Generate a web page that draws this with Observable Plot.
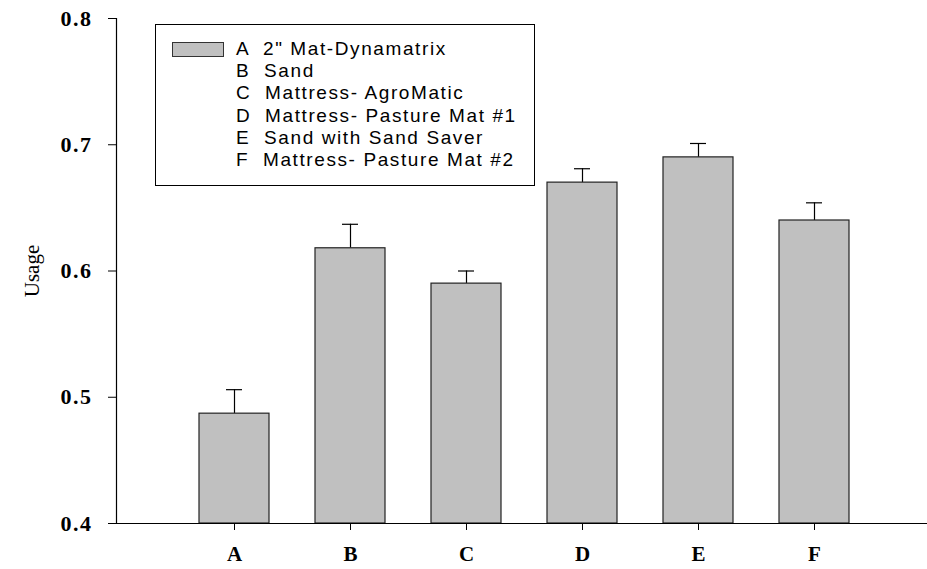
<!DOCTYPE html>
<html>
<head>
<meta charset="utf-8">
<script src="https://cdn.jsdelivr.net/npm/d3@7"></script>
<script src="https://cdn.jsdelivr.net/npm/@observablehq/plot@0.6"></script>
<style>
  html, body { margin: 0; padding: 0; background: #fff; }
  #wrap { position: relative; width: 927px; height: 569px; }
  #legend {
    position: absolute; left: 155px; top: 24px; width: 378px; height: 160px;
    border: 1px solid #000; background: #fff; box-sizing: content-box;
    font-family: "Liberation Sans", Arial, sans-serif; font-size: 19px; letter-spacing: 1.6px; color: #000;
  }
  #legend .sw { position: absolute; left: 16px; top: 17px; width: 50px; height: 13px; background: #c0c0c0; border: 1px solid #333; }
  #legend .row { position: absolute; left: 80px; white-space: pre; line-height: 22px; }
</style>
</head>
<body>
<div id="wrap"></div>
<script>
const categories = ["A", "B", "C", "D", "E", "F"];
const usage = [0.487, 0.618, 0.590, 0.670, 0.690, 0.640];
const stdErr = [0.019, 0.019, 0.010, 0.011, 0.011, 0.014];
const legendLabels = [
  "A  2\" Mat-Dynamatrix",
  "B  Sand",
  "C  Mattress- AgroMatic",
  "D  Mattress- Pasture Mat #1",
  "E  Sand with Sand Saver",
  "F  Mattress- Pasture Mat #2"
];
const yTicks = [0.4, 0.5, 0.6, 0.7, 0.8];
const yLabel = "Usage";

const data = categories.map((c, i) => ({cat: c, v: usage[i], top: usage[i] + stdErr[i]}));
const serif = "Liberation Serif, Times New Roman, serif";

const plot = Plot.plot({
  width: 927, height: 569,
  marginLeft: 116, marginRight: 0, marginTop: 18, marginBottom: 46,
  style: {background: "#fff", overflow: "visible"},
  x: {type: "band", domain: categories, paddingInner: 0.394, paddingOuter: 0.672, align: 0.519},
  y: {domain: [0.4, 0.8]},
  marks: [
    Plot.ruleX(data, {x: "cat", y1: "v", y2: "top", stroke: "#000", strokeWidth: 1.2}),
    Plot.tickY(data, {x: "cat", y: "top", stroke: "#000", strokeWidth: 1.2, insetLeft: 27, insetRight: 27}),
    Plot.barY(data, {x: "cat", y1: 0.4, y2: "v", fill: "#c0c0c0", stroke: "#222", strokeWidth: 1.2}),
    Plot.frame({anchor: "left", stroke: "#000", strokeWidth: 1.2}),
    Plot.ruleY([0.4], {stroke: "#000", strokeWidth: 1.2}),
    Plot.axisY({ticks: yTicks, tickFormat: d3.format(".1f"), tickSize: 8, tickPadding: 16,
      fontSize: 22, fontWeight: "bold", fontFamily: serif, label: null}),
    Plot.axisX({tickSize: 7, tickPadding: 16, fontSize: 21, fontWeight: "bold",
      fontFamily: serif, label: null}),
    Plot.text([yLabel], {frameAnchor: "left", dx: -84, rotate: -90, textAnchor: "middle",
      fontFamily: serif, fontSize: 21, fill: "#000"})
  ]
});
plot.querySelectorAll("g[aria-label='y-axis tick label']").forEach(g => {
  g.style.letterSpacing = "1.5px";
});
const wrap = document.getElementById("wrap");
wrap.appendChild(plot);

const legend = document.createElement("div");
legend.id = "legend";
const sw = document.createElement("div");
sw.className = "sw";
legend.appendChild(sw);
legendLabels.forEach((t, i) => {
  const r = document.createElement("div");
  r.className = "row";
  r.style.top = (13 + i * 22.2) + "px";
  r.textContent = t;
  legend.appendChild(r);
});
wrap.appendChild(legend);
</script>
</body>
</html>
